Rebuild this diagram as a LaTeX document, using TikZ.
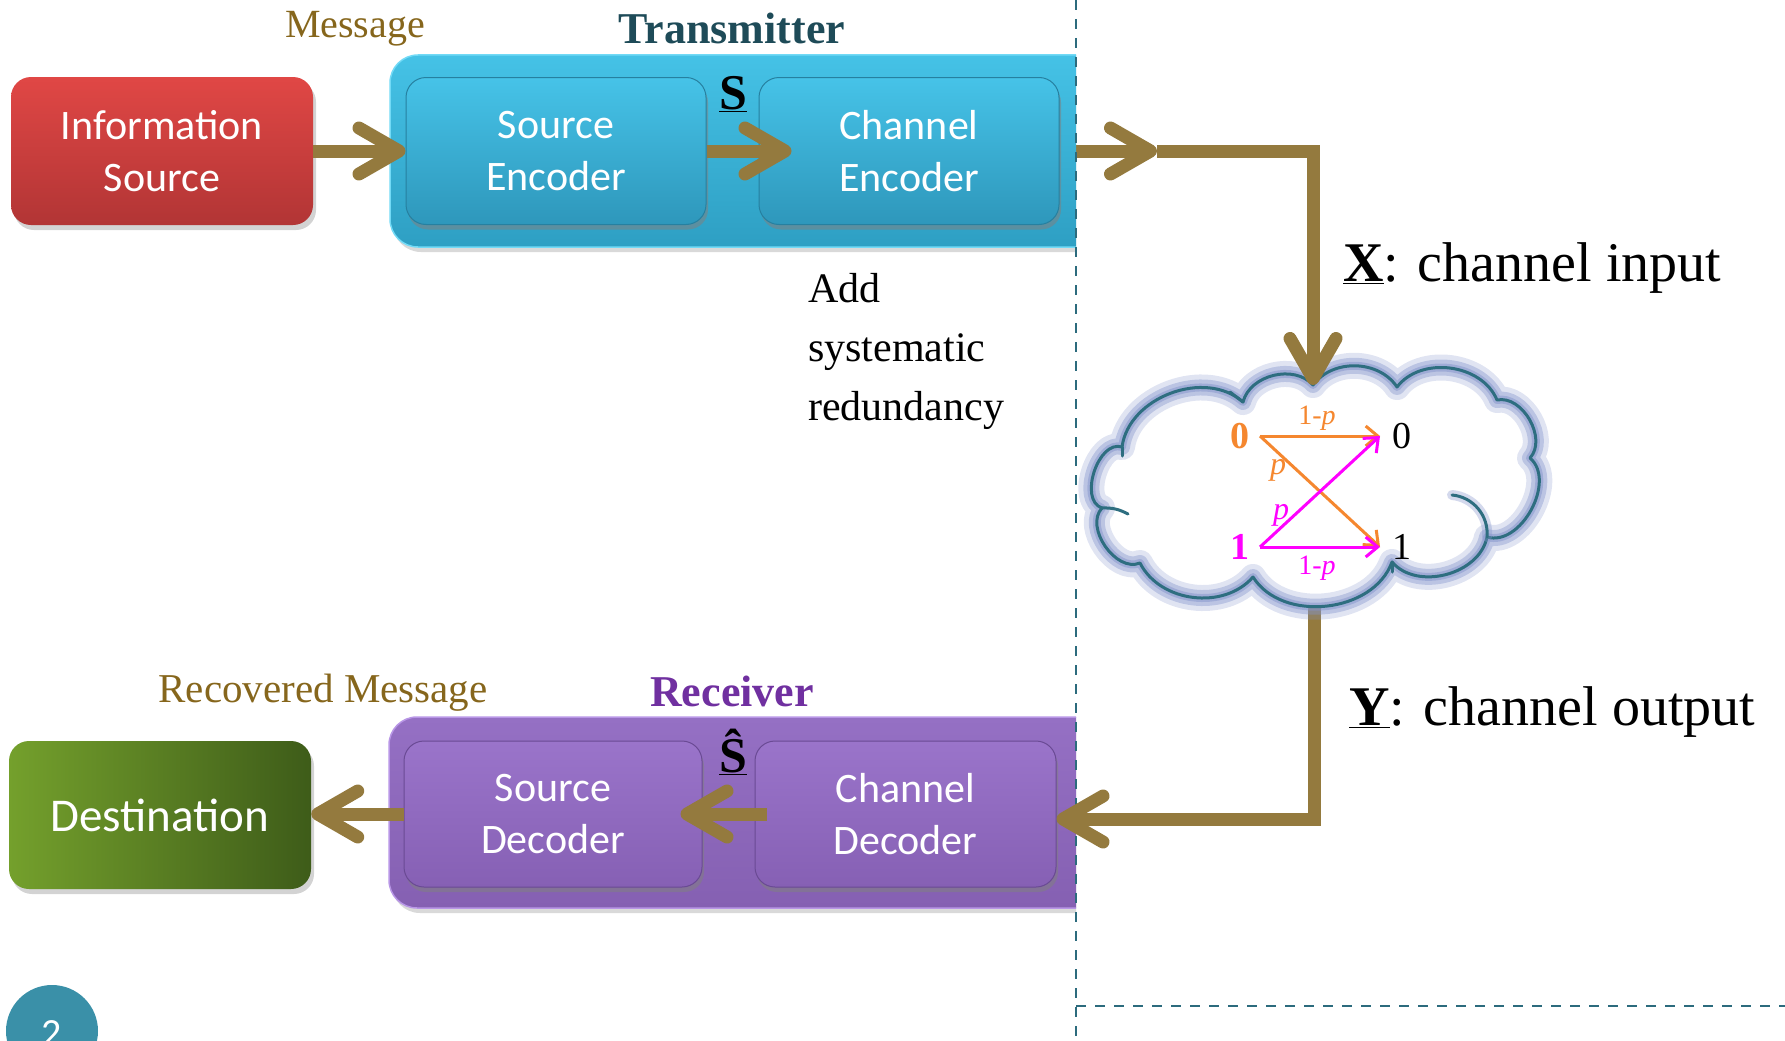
\documentclass[tikz,border=0pt]{standalone}
\usepackage{fontspec}
\setmainfont{Liberation Serif}
\newfontfamily\boxfont{Carlito}
\usetikzlibrary{arrows.meta,shapes.symbols,shadows,backgrounds,calc}
\definecolor{arrowbrown}{HTML}{947A3E}
\definecolor{dashteal}{HTML}{2C6B7D}
\definecolor{msgbrown}{HTML}{86661C}
\definecolor{txtitle}{HTML}{1E4B58}
\definecolor{rxtitle}{HTML}{7030A0}
\definecolor{redtop}{HTML}{E04745}
\definecolor{redbot}{HTML}{B23535}
\definecolor{bluetop}{HTML}{45C2E6}
\definecolor{bluebot}{HTML}{2E9FC3}
\definecolor{blueedge}{HTML}{72DAF6}
\definecolor{ibluetop}{HTML}{46C3E8}
\definecolor{ibluebot}{HTML}{2E97BB}
\definecolor{iblueline}{HTML}{2680A0}
\definecolor{purtop}{HTML}{9570C4}
\definecolor{purbot}{HTML}{8560B2}
\definecolor{puredge}{HTML}{B896E6}
\definecolor{ipurtop}{HTML}{9A74CA}
\definecolor{ipurbot}{HTML}{8660B4}
\definecolor{ipurline}{HTML}{6A4A94}
\definecolor{greenl}{HTML}{74A02C}
\definecolor{greenr}{HTML}{3E5C19}
\definecolor{cloudline}{HTML}{2E6E80}
\definecolor{cloudglow}{HTML}{8494CC}
\definecolor{chorange}{HTML}{F5872F}
\definecolor{chmagenta}{HTML}{FF00FF}
\definecolor{pagecol}{HTML}{3A90A8}
\begin{document}
\begin{tikzpicture}[x=1pt,y=-1pt,
  boxbase/.style={rounded corners=20pt, align=center, text=white,
    font=\boxfont\fontsize{42}{52}\selectfont, inner sep=0pt},
  mainbox/.style={boxbase, drop shadow={shadow xshift=3pt, shadow yshift=-5pt, opacity=.35}},
  innerbox/.style={boxbase, minimum width=300pt, minimum height=147pt, line width=1pt,
    drop shadow={shadow xshift=2pt, shadow yshift=-5pt, opacity=.55}},
  outerbox/.style={rounded corners=28pt, inner sep=0pt, line width=1.5pt,
    drop shadow={shadow xshift=3pt, shadow yshift=-5pt, opacity=.3}},
  brarrow/.style={draw=arrowbrown, line width=13pt,
    -{Straight Barb[length=40pt,width=46pt,round]}},
  chan/.style={line width=3pt, -{Straight Barb[length=12pt,width=20pt]}},
  dashline/.style={draw=dashteal, line width=2.5pt, dash pattern=on 10pt off 9pt},
  serif40/.style={font=\fontsize{40}{48}\selectfont, inner sep=0pt},
  title44/.style={font=\bfseries\fontsize{44}{50}\selectfont, inner sep=0pt},
  symb/.style={font=\bfseries\fontsize{50}{56}\selectfont, inner sep=0pt},
  chlabel/.style={font=\fontsize{56}{62}\selectfont, inner sep=0pt, anchor=west},
  plabel/.style={font=\fontsize{28}{30}\selectfont, inner sep=0pt},
  cloudedge/.style={draw=cloudline, line width=3pt, line join=round, line cap=round}
]
\useasboundingbox (0,0) rectangle (1785,1041);

% left column boxes
\node[mainbox, top color=redtop, bottom color=redbot, minimum width=302pt, minimum height=148pt] (info) at (162,151) {Information\\Source};
\node[mainbox, left color=greenl, right color=greenr, minimum width=302pt, minimum height=148pt,
  font=\boxfont\fontsize{47}{52}\selectfont] (dest) at (160,815) {Destination};

% transmitter / receiver outer boxes, clipped at the dashed line
\begin{scope}
\clip (0,0) rectangle (1076,1041);
\node[outerbox, top color=bluetop, bottom color=bluebot, draw=blueedge,
  minimum width=720pt, minimum height=192pt] (tx) at (750,151) {};
\node[outerbox, top color=purtop, bottom color=purbot, draw=puredge,
  minimum width=720pt, minimum height=191pt] (rx) at (749,812.5) {};
\end{scope}

% inner boxes
\node[innerbox, top color=ibluetop, bottom color=ibluebot, draw=iblueline] (srcenc) at (556,151) {Source\\Encoder};
\node[innerbox, top color=ibluetop, bottom color=ibluebot, draw=iblueline] (chenc) at (909,151) {Channel\\Encoder};
\node[innerbox, top color=ipurtop, bottom color=ipurbot, draw=ipurline, minimum width=298pt, minimum height=146pt] (srcdec) at (553,814) {Source\\Decoder};
\node[innerbox, top color=ipurtop, bottom color=ipurbot, draw=ipurline, minimum width=301pt, minimum height=146pt] (chdec) at (905.5,814) {Channel\\Decoder};

% dashed separators
\draw[dashline] (1076,0) -- (1076,1041);
\draw[dashline] (1076,1006) -- (1785,1006);

% labels
\node[serif40, text=msgbrown] (msg) at (355,29) {Message};
\node[title44, text=txtitle] (txt) at (732,28) {Transmitter};
\node[symb] (s) at (733,94) {\underline{S}};
\node[serif40, text=msgbrown, font=\fontsize{41}{48}\selectfont] (rmsg) at (323,693) {Recovered Message};
\node[title44, text=rxtitle] (rxt) at (732,691) {Receiver};
\node[symb] (shat) at (733,752) {\underline{Ŝ}};
\node[font=\fontsize{42}{59}\selectfont, inner sep=0pt, align=left, anchor=north west] (add) at (808,273) {Add\\systematic\\redundancy};
\node[chlabel] (xin) at (1343,268) {\underline{\textbf{X}}: channel input};
\node[chlabel] (yout) at (1349,712) {\underline{\textbf{Y}}: channel output};

% cloud exit connector (starts under the cloud)
\coordinate (cout) at (1314,600);
\draw[brarrow] (cout) |- ([yshift=-5pt]chdec.east);

% cloud
\path[preaction={fill=white},
  preaction={draw=cloudglow, line width=26pt, opacity=.25, line join=round},
  preaction={draw=cloudglow, line width=16pt, opacity=.4, line join=round},
  preaction={draw=cloudglow, line width=8pt, opacity=.5, line join=round},
  cloudedge]
  (1122,447) to[bend left=62] (1243,402) to[bend left=62] (1313,385)
  to[bend left=55] (1397,387) to[bend left=60] (1497,400)
  to[bend left=72] (1530,458) to[bend left=78] (1487,537)
  to[bend left=64] (1392,562) to[bend left=64] (1253,577)
  to[bend left=56] (1140,563) to[bend left=78] (1102,508)
  to[bend left=90] (1122,447) -- cycle;
\draw[draw=cloudglow, line width=10pt, opacity=.35, line cap=round] (1452,495) to[bend left=45] (1487,537);
\draw[cloudedge] (1452,495) to[bend left=45] (1487,537);
\draw[cloudedge] (1102,508) to[bend left=15] (1128,514);
\draw[cloudedge] (1122,447) -- (1122,456);
\draw[cloudedge] (1230,392) -- (1243,402);
\draw[cloudedge] (1392,562) -- (1392,572);

% binary symmetric channel
\node[font=\bfseries\fontsize{38}{40}\selectfont, text=chorange, inner xsep=10pt, inner ysep=0pt, anchor=east] (a0) at (1260,436) {0};
\node[font=\bfseries\fontsize{38}{40}\selectfont, text=chmagenta, inner xsep=10pt, inner ysep=0pt, anchor=east] (a1) at (1260,547) {1};
\node[font=\fontsize{38}{40}\selectfont, inner xsep=12pt, inner ysep=0pt, anchor=west] (b0) at (1380,436) {0};
\node[font=\fontsize{38}{40}\selectfont, inner xsep=12pt, inner ysep=0pt, anchor=west] (b1) at (1380,547) {1};
\draw[chan, chorange] (a0.east) -- (b0.west);
\draw[chan, chorange] (a0.east) -- (b1.west);
\draw[chan, chmagenta] (a1.east) -- (b0.west);
\draw[chan, chmagenta] (a1.east) -- (b1.west);
\node[plabel, text=chorange] (l1) at (1317,418) {1-\textit{p}};
\node[plabel, text=chorange, font=\fontsize{32}{34}\selectfont] (l2) at (1278,470) {\textit{p}};
\node[plabel, text=chmagenta, font=\fontsize{32}{34}\selectfont] (l3) at (1281,515) {\textit{p}};
\node[plabel, text=chmagenta] (l4) at (1317,568) {1-\textit{p}};

% brown connectors
\draw[brarrow] (info.east) -- (srcenc.west);
\draw[brarrow, shorten >=-33pt] (srcenc.east) -- (chenc.west);
\coordinate (mid1) at (1157,151);
\coordinate (cin) at (1313,385);
\begin{scope}[on background layer]
\draw[brarrow] (chenc.east) -- (mid1);
\end{scope}
\draw[brarrow] (mid1) -| (cin);
\draw[brarrow, shorten <=-12pt, shorten >=-22pt] (chdec.west) -- (srcdec.east);
\draw[brarrow] (srcdec.west) -- (srcdec.west -| dest.east);

% page number
\node[circle, fill=pagecol, minimum size=92pt, inner sep=0pt] (pg) at (52,1031) {};
\node[font=\boxfont\fontsize{40}{44}\selectfont, text=white, inner sep=0pt] (pgnum) at (52,1034) {2};
\end{tikzpicture}
\end{document}
